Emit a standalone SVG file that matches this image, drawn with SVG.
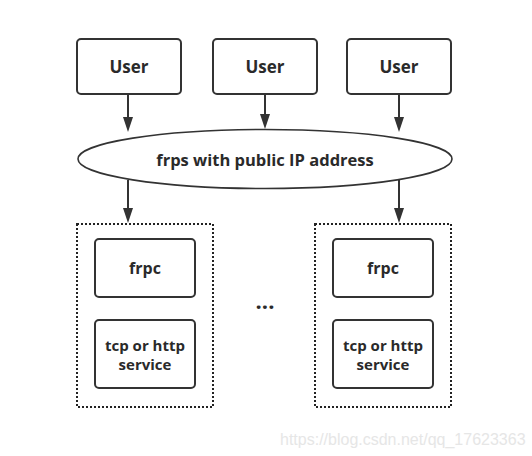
<svg xmlns="http://www.w3.org/2000/svg" width="532" height="456" viewBox="0 0 532 456">
<style>
.box{fill:#fff;stroke:#333;stroke-width:2}
.grp{fill:none;stroke:#222;stroke-width:2;stroke-dasharray:2 2}
.lbl{font-family:"Open Sans","Noto Sans","DejaVu Sans",sans-serif;font-weight:bold;fill:#2a2a2a;text-anchor:middle}
.edge{stroke:#333;stroke-width:2;fill:none}
.wm{font-family:"Liberation Sans",Arial,sans-serif;font-size:16px;fill:#e6e6e6}
</style>
<rect width="532" height="456" fill="#fff"/>
<g id="connectors">
<line class="edge" x1="128" y1="95" x2="128" y2="117"/>
<path d="M123,117 L133,117 L128,132 Z" fill="#333"/>
<line class="edge" x1="265" y1="95" x2="265" y2="114"/>
<path d="M260,114 L270,114 L265,129 Z" fill="#333"/>
<line class="edge" x1="399" y1="95" x2="399" y2="117"/>
<path d="M394,117 L404,117 L399,132 Z" fill="#333"/>
<line class="edge" x1="128" y1="180" x2="128" y2="208"/>
<path d="M123,208 L133,208 L128,223 Z" fill="#333"/>
<line class="edge" x1="399" y1="180" x2="399" y2="208"/>
<path d="M394,208 L404,208 L399,223 Z" fill="#333"/>
</g>
<g id="user1"><rect class="box" x="77" y="39" width="104" height="55" rx="4"/><text class="lbl" x="129" y="73" font-size="17">User</text></g>
<g id="user2"><rect class="box" x="213" y="39" width="104" height="55" rx="4"/><text class="lbl" x="265" y="73" font-size="17">User</text></g>
<g id="user3"><rect class="box" x="347" y="39" width="104" height="55" rx="4"/><text class="lbl" x="399" y="73" font-size="17">User</text></g>
<g id="frps"><ellipse cx="265" cy="159" rx="187" ry="29.5" fill="#fff" stroke="#333" stroke-width="1.6"/><text class="lbl" x="265" y="165.5" font-size="16.5">frps with public IP address</text></g>
<g id="group1">
<rect class="grp" x="77" y="224" width="136" height="183"/>
<g id="frpc1"><rect class="box" x="95" y="239" width="100" height="58" rx="4"/><text class="lbl" x="145" y="274" font-size="16">frpc</text></g>
<g id="svc1"><rect class="box" x="95" y="320" width="100" height="68" rx="4"/><text class="lbl" x="145" y="351" font-size="15">tcp or http</text><text class="lbl" x="145" y="370" font-size="15">service</text></g>
</g>
<g id="group2">
<rect class="grp" x="315" y="224" width="136" height="183"/>
<g id="frpc2"><rect class="box" x="333" y="239" width="100" height="58" rx="4"/><text class="lbl" x="383" y="274" font-size="16">frpc</text></g>
<g id="svc2"><rect class="box" x="333" y="320" width="100" height="68" rx="4"/><text class="lbl" x="383" y="351" font-size="15">tcp or http</text><text class="lbl" x="383" y="370" font-size="15">service</text></g>
</g>
<g id="ellipsis"><text class="lbl" x="265" y="309" font-size="22">...</text></g>
<text class="wm" x="280" y="445">https://blog.csdn.net/qq_17623363</text>
</svg>
